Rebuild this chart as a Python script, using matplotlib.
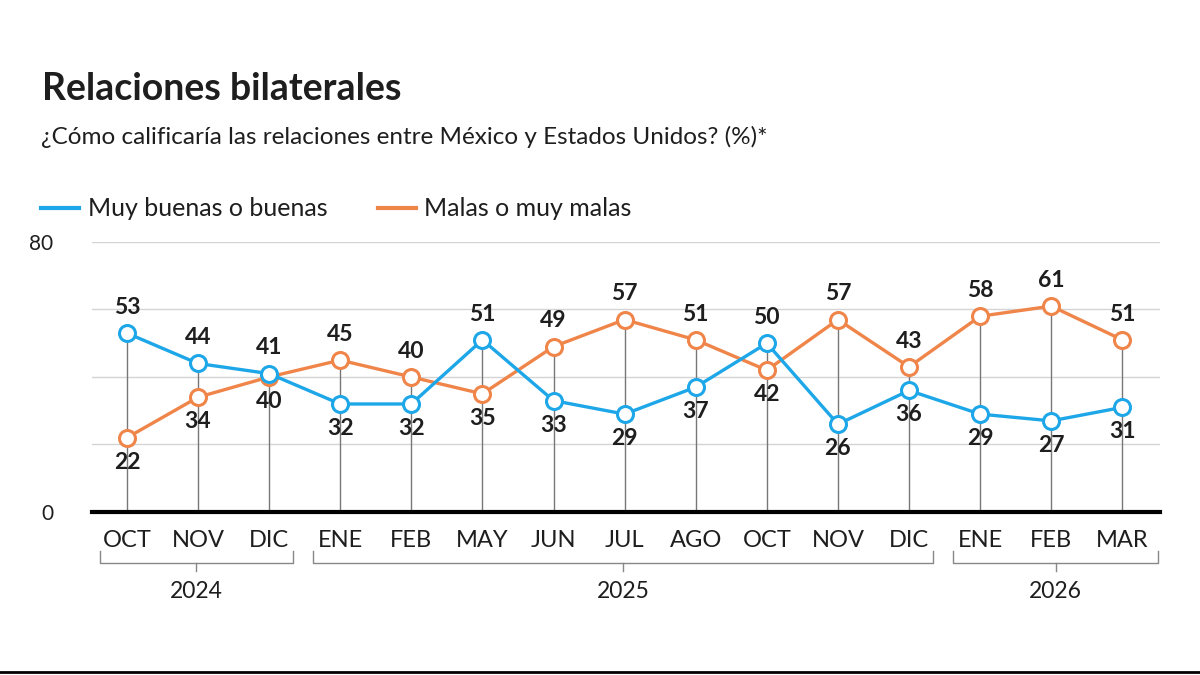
import numpy as np
import matplotlib
matplotlib.use("Agg")
import matplotlib.pyplot as plt

plt.rcParams['font.family'] = ['Lato', 'DejaVu Sans']

meses = ["OCT", "NOV", "DIC", "ENE", "FEB", "MAY", "JUN", "JUL", "AGO",
         "OCT", "NOV", "DIC", "ENE", "FEB", "MAR"]
buenas = [53, 44, 41, 32, 32, 51, 33, 29, 37, 50, 26, 36, 29, 27, 31]
malas = [22, 34, 40, 45, 40, 35, 49, 57, 51, 42, 57, 43, 58, 61, 51]
anios = ["2024", "2025", "2026"]
anio_rango = [(0, 2), (3, 11), (12, 14)]

azul = "#1ea7e8"
naranja = "#f0854a"
texto = "#1e1e1e"

fig = plt.figure(figsize=(12, 6.75), dpi=100)
ax = fig.add_axes([0.0767, 0.2415, 0.89, 0.40])
x = np.arange(len(meses))
ax.set_xlim(-0.49, 14.53)
ax.set_ylim(0, 80)

for yv in [20, 40, 60, 80]:
    ax.axhline(yv, color="#d4d4d4", lw=1, zorder=0)
ax.axhline(0, color="black", lw=3, zorder=5, clip_on=False)

tope = np.maximum(buenas, malas)
ax.vlines(x, 0, tope, color="#777777", lw=1, zorder=1)

ax.plot(x, malas, color=naranja, lw=2.4, marker="o", ms=11.5,
        mfc="white", mec=naranja, mew=2.2, zorder=3, clip_on=False)
ax.plot(x, buenas, color=azul, lw=2.4, marker="o", ms=11.5,
        mfc="white", mec=azul, mew=2.2, zorder=4, clip_on=False)

for i in range(len(meses)):
    for serie in (buenas, malas):
        v = serie[i]
        otro = malas[i] if serie is buenas else buenas[i]
        if v >= otro:
            ax.annotate(str(v), (i, v), xytext=(0, 11), textcoords="offset points",
                        ha="center", va="bottom", fontsize=16.5, fontweight="bold",
                        color=texto, zorder=6)
        else:
            ax.annotate(str(v), (i, v), xytext=(0, -10), textcoords="offset points",
                        ha="center", va="top", fontsize=16.5, fontweight="bold",
                        color=texto, zorder=6)

ax.set_xticks(x)
ax.set_xticklabels(meses, fontsize=17, color=texto)
ax.tick_params(axis="x", length=0, pad=13)
ax.set_yticks([0, 80])
ax.set_yticklabels(["0", "80"], fontsize=15, color=texto)
ax.tick_params(axis="y", length=0, pad=28)
for s in ax.spines.values():
    s.set_visible(False)

# corchetes de años
trans = ax.get_xaxis_transform()
for nombre, (a, b) in zip(anios, anio_rango):
    x0, x1 = a - 0.38, b + 0.33
    if b == 14:
        x1 = 14.5
    yb = -0.19
    ax.plot([x0, x0, x1, x1], [yb + 0.045, yb, yb, yb + 0.045], color="#888888",
            lw=1, transform=trans, clip_on=False)
    xm = (x0 + x1) / 2
    ax.plot([xm, xm], [yb, yb - 0.028], color="#888888", lw=1,
            transform=trans, clip_on=False)
    ax.text(xm, yb - 0.065, nombre, transform=trans, ha="center", va="top",
            fontsize=16.5, color=texto)

fig.text(0.035, 0.868, "Relaciones bilaterales", fontsize=27, fontweight="bold",
         color=texto, ha="left", va="center")
fig.text(0.034, 0.797, "¿Cómo calificaría las relaciones entre México y Estados Unidos? (%)*",
         fontsize=17.5, color=texto, ha="left", va="center")

# leyenda
ly = 1 - 208 / 675
fig.lines.append(plt.Line2D([0.034, 0.066], [ly, ly], color=azul, lw=3,
                            transform=fig.transFigure))
fig.text(0.073, ly, "Muy buenas o buenas", fontsize=18,
         color=texto, ha="left", va="center")
fig.lines.append(plt.Line2D([0.315, 0.347], [ly, ly], color=naranja, lw=3,
                            transform=fig.transFigure))
fig.text(0.353, ly, "Malas o muy malas", fontsize=18,
         color=texto, ha="left", va="center")

fig.lines.append(plt.Line2D([0, 1], [0.004, 0.004], color="black", lw=2,
                            transform=fig.transFigure))

fig.savefig("out.png", dpi=100)
